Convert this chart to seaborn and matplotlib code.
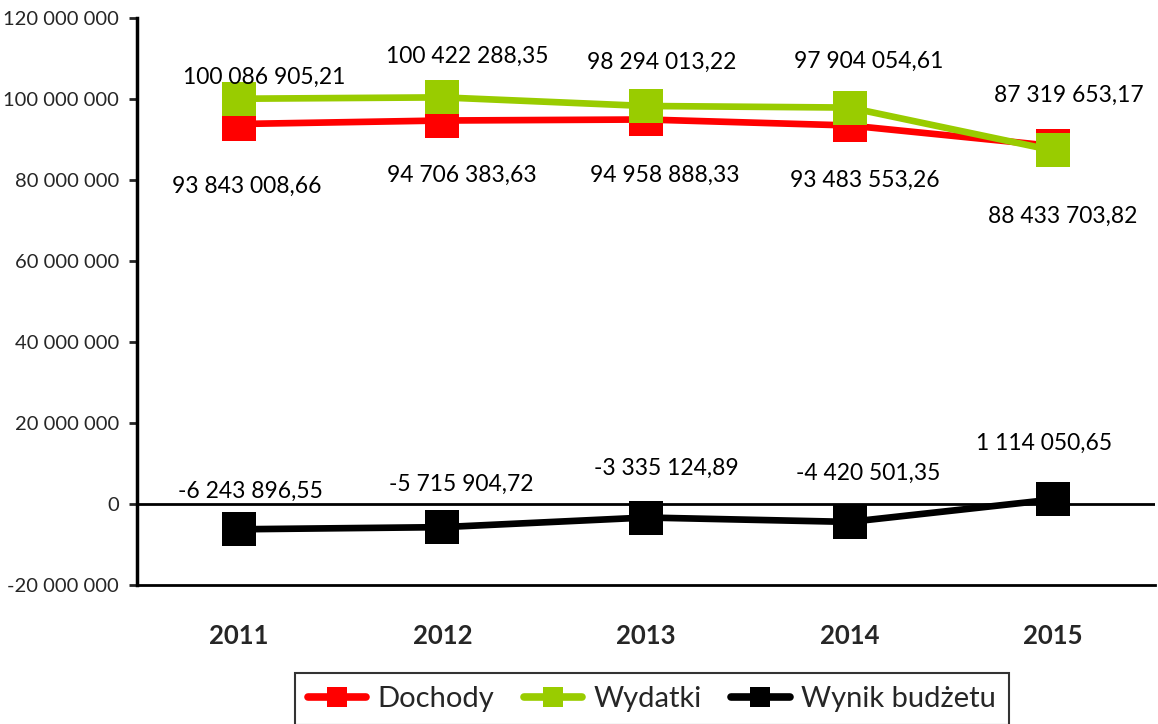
import numpy as np
import pandas as pd
import seaborn as sns
import matplotlib.pyplot as plt
from matplotlib.ticker import FuncFormatter, MultipleLocator

years = ['2011', '2012', '2013', '2014', '2015']
dochody = [93843008.66, 94706383.63, 94958888.33, 93483553.26, 88433703.82]
wydatki = [100086905.21, 100422288.35, 98294013.22, 97904054.61, 87319653.17]
wynik = [-6243896.55, -5715904.72, -3335124.89, -4420501.35, 1114050.65]
series_names = ['Dochody', 'Wydatki', 'Wynik budżetu']
colors = ['#FF0000', '#99CC00', '#000000']

# label offsets in pixels (dx, dy) relative to the marker, as placed in the original
off_doch = [(8, -62), (19, -55), (19, -56), (15, -55), (10, -70)]
off_wyd = [(25, 21), (25, 41), (16, 44), (19, 46), (16, 55)]
off_wyn = [(12, 38), (19, 43), (20, 49), (19, 49), (-9, 56)]


def fmt_pl(v, decimals=2):
    s = f"{abs(v):,.{decimals}f}".replace(',', ' ').replace('.', ',')
    return ('-' if v < 0 else '') + s


df = pd.DataFrame({
    'rok': years * 3,
    'seria': [n for n in series_names for _ in years],
    'wartosc': dochody + wydatki + wynik,
})
df['x'] = df['rok'].map({y: i for i, y in enumerate(years)})

sns.set_style('white')
plt.rcParams['font.family'] = ['Lato', 'DejaVu Sans']

fig = plt.figure(figsize=(11.58, 7.24), dpi=100)
ax = fig.add_axes([0.1183, 0.192, 0.879, 0.783])

sns.lineplot(data=df, x='x', y='wartosc', hue='seria', hue_order=series_names,
             palette=colors, style='seria', markers=['s', 's', 's'], dashes=False,
             markersize=25, markeredgewidth=0, linewidth=4.8, ax=ax, legend=True)

ax.set_xlim(-0.5, 4.5)
ax.set_ylim(-20000000, 120000000)
ax.yaxis.set_major_locator(MultipleLocator(20000000))
ax.yaxis.set_major_formatter(FuncFormatter(lambda v, p: fmt_pl(v, 0)))
ax.set_xticks(range(len(years)))
ax.set_xticklabels(years, fontweight='bold', fontsize=18.5)
ax.set_xlabel('')
ax.set_ylabel('')
ax.tick_params(axis='y', labelsize=14.5, length=6, width=2, direction='out', left=True, pad=7)
ax.tick_params(axis='x', length=0, pad=28)
ax.axhline(0, color='black', lw=2, zorder=1)
for side in ['top', 'right']:
    ax.spines[side].set_visible(False)
ax.spines['left'].set_linewidth(2.5)
ax.spines['bottom'].set_linewidth(2)
ax.spines['left'].set_color('black')
ax.spines['bottom'].set_color('black')

for vals, offs in [(dochody, off_doch), (wydatki, off_wyd), (wynik, off_wyn)]:
    for i, (v, o) in enumerate(zip(vals, offs)):
        ax.annotate(fmt_pl(v), (i, v), xytext=o, textcoords='offset pixels',
                    ha='center', va='center', fontsize=16.5, color='black')

handles, labels = ax.get_legend_handles_labels()
ax.get_legend().remove()
for h in handles:
    h.set_markersize(15)
    h.set_linewidth(5.5)
leg = fig.legend(handles, labels, loc='upper center', bbox_to_anchor=(0.563, 0.071),
                 ncol=3, fontsize=21, frameon=True, fancybox=False, edgecolor='black',
                 handlelength=2.0, columnspacing=1.0, handletextpad=0.4,
                 borderpad=0.45, borderaxespad=0)
leg.get_frame().set_linewidth(1.5)

fig.savefig('out.png', dpi=100)
